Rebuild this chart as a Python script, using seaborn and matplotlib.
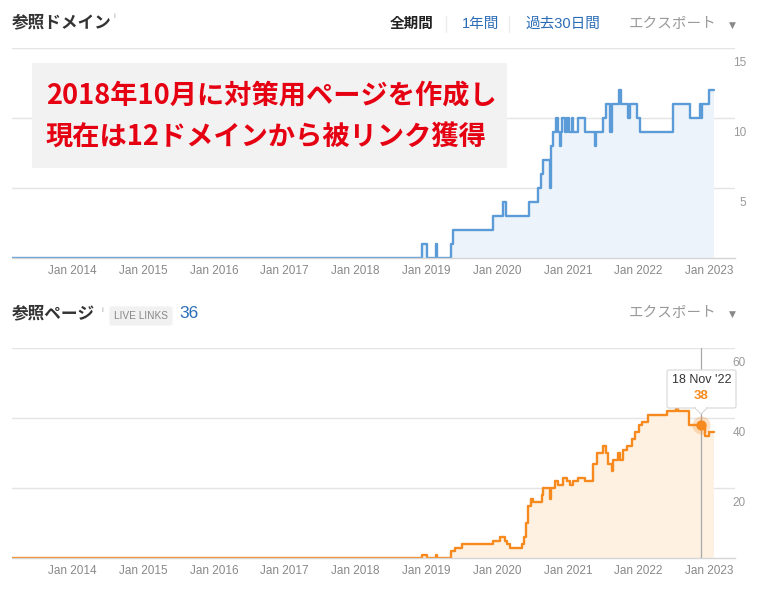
import numpy as np
import pandas as pd
import matplotlib
matplotlib.use('Agg')
import matplotlib.pyplot as plt
from matplotlib.patches import Rectangle, Polygon, FancyBboxPatch
from matplotlib.lines import Line2D
from matplotlib.transforms import ScaledTranslation
import seaborn as sns

# ---------------- data ----------------
domain_dates = ['2013-02-23', '2018-12-10', '2019-01-04', '2019-02-19', '2019-02-27',
                '2019-05-09', '2019-05-20', '2019-12-13', '2020-01-31', '2020-02-17',
                '2020-06-16', '2020-08-02', '2020-08-14', '2020-08-28', '2020-09-30',
                '2020-10-04', '2020-10-18', '2020-11-01', '2020-11-13', '2020-11-20',
                '2020-11-28', '2020-12-01', '2020-12-18', '2020-12-27', '2021-01-09',
                '2021-01-22', '2021-01-30', '2021-02-25', '2021-03-31', '2021-05-20',
                '2021-05-27', '2021-07-04', '2021-07-18', '2021-08-07', '2021-08-16',
                '2021-09-24', '2021-10-03', '2021-11-10', '2021-11-18', '2021-12-23',
                '2022-01-09', '2022-06-30', '2022-09-24', '2022-11-14', '2022-11-20',
                '2022-11-24', '2023-01-02', '2023-01-28']
domain_values = [0, 1, 0, 1, 0,
                 1, 2, 3, 4, 3,
                 4, 5, 6, 7, 5,
                 8, 9, 10, 9, 8,
                 9, 10, 9, 10, 9,
                 10, 9, 10, 9, 8,
                 9, 10, 11, 9, 11,
                 12, 11, 10, 11, 10,
                 9, 11, 10, 11, 10,
                 11, 12, 12]

page_dates = ['2013-02-23', '2018-12-09', '2019-01-05', '2019-02-19', '2019-02-26',
              '2019-05-09', '2019-05-30', '2019-07-03', '2019-12-13', '2020-01-17',
              '2020-02-12', '2020-02-24', '2020-03-08', '2020-05-08', '2020-05-20',
              '2020-05-31', '2020-06-08', '2020-06-26', '2020-07-06', '2020-08-20',
              '2020-08-28', '2020-10-02', '2020-10-08', '2020-10-27', '2020-11-13',
              '2020-12-09', '2020-12-27', '2021-01-13', '2021-01-30', '2021-02-25',
              '2021-03-31', '2021-05-13', '2021-06-03', '2021-07-04', '2021-07-18',
              '2021-07-29', '2021-08-16', '2021-08-24', '2021-09-19', '2021-09-28',
              '2021-10-15', '2021-11-04', '2021-11-27', '2021-12-14', '2022-01-01',
              '2022-01-18', '2022-02-21', '2022-05-27', '2022-07-14', '2022-07-24',
              '2022-09-20', '2022-12-12', '2023-01-02', '2023-01-28']
page_values = [0, 1, 0, 1, 0,
               2, 3, 4, 5, 6,
               5, 4, 3, 4, 6,
               10, 15, 17, 16, 18,
               20, 17, 20, 22, 21,
               23, 22, 21, 22, 23,
               22, 27, 30, 32, 30,
               27, 25, 28, 30, 28,
               31, 32, 34, 36, 38,
               39, 41, 42, 43, 42,
               38, 35, 36, 36]

domain_yticks = [5, 10, 15]
page_yticks = [20, 40, 60]
year_ticks = list(range(2014, 2024))
x_start, x_end = '2013-02-23', '2023-05-14'
tooltip_date = '2022-11-18'
tooltip_label = "18 Nov '22"
tooltip_value = 38
live_links = 36

title_top = '参照ドメイン'
title_bottom = '参照ページ'
period_labels = ['全期間', '1年間', '過去30日間']
export_label = 'エクスポート'
note_lines = ['2018年10月に対策用ページを作成し', '現在は12ドメインから被リンク獲得']

# ---------------- style ----------------
sns.set_style('white')
plt.rcParams['font.family'] = ['Liberation Sans', 'Noto Sans CJK JP', 'DejaVu Sans']

BLUE_LINE = '#5b9bd8'
BLUE_FILL = '#edf3fb'
ORANGE_LINE = '#f68a1e'
ORANGE_FILL = '#fef1e1'
LINK_BLUE = '#2a6cb6'

W, H = 762, 592
fig = plt.figure(figsize=(W / 100, H / 100), dpi=100)
fig.patch.set_facecolor('white')


def fx(px):
    return px / W


def fy(py):
    return 1 - py / H


ax1 = fig.add_axes([fx(12), fy(258), fx(735) - fx(12), fy(48) - fy(258)])
ax2 = fig.add_axes([fx(12), fy(558), fx(735) - fx(12), fy(348) - fy(558)])


def draw_series(ax, dates, values, lc, fc):
    d = pd.to_datetime(dates)
    df = pd.DataFrame({'date': d, 'value': values})
    ax.fill_between(df['date'], df['value'], step='post', color=fc, lw=0, zorder=1)
    sns.lineplot(data=df, x='date', y='value', ax=ax, drawstyle='steps-post',
                 color=lc, lw=1.7, estimator=None, zorder=2)


def style(ax, yticks, ymax):
    ax.set_ylim(0, ymax)
    ax.set_xlim(pd.Timestamp(x_start), pd.Timestamp(x_end))
    ax.set_yticks(yticks)
    ax.set_yticklabels([str(v) for v in yticks])
    ax.yaxis.tick_right()
    ax.grid(axis='y', color='#e4e4e4', lw=1)
    ax.grid(axis='x', visible=False)
    for s in ['top', 'left', 'right']:
        ax.spines[s].set_visible(False)
    ax.spines['bottom'].set_color('#d5d5d5')
    ax.spines['bottom'].set_linewidth(1)
    ax.set_xticks([pd.Timestamp(f'{y}-01-01') for y in year_ticks])
    ax.set_xticklabels([f'Jan {y}' for y in year_ticks])
    ax.tick_params(axis='x', direction='in', length=5, width=1, color='#e2e2e2',
                   labelsize=8.5, labelcolor='#888888', pad=5)
    ax.tick_params(axis='y', length=0, labelsize=8.5, labelcolor='#999999', pad=0)
    for lab in ax.get_yticklabels():
        lab.set_horizontalalignment('right')
        lab.set_transform(lab.get_transform() +
                          ScaledTranslation(11 / 100, -14 / 100, fig.dpi_scale_trans))
    ax.set_xlabel('')
    ax.set_ylabel('')
    ax.set_facecolor('none')


draw_series(ax1, domain_dates, domain_values, BLUE_LINE, BLUE_FILL)
style(ax1, domain_yticks, 15)
draw_series(ax2, page_dates, page_values, ORANGE_LINE, ORANGE_FILL)
style(ax2, page_yticks, 60)

# crosshair + highlighted point
td = pd.Timestamp(tooltip_date)
ax2.axvline(td, color='#a8a8a8', lw=0.9, zorder=3)
ax2.scatter([td], [tooltip_value], s=170, color=ORANGE_LINE, alpha=0.25, lw=0, zorder=4)
ax2.scatter([td], [tooltip_value], s=55, color=ORANGE_LINE, lw=0, zorder=5)

# tooltip box
box = FancyBboxPatch((fx(667), fy(408)), fx(736) - fx(667), fy(370) - fy(408),
                     boxstyle='round,pad=0,rounding_size=0.003',
                     transform=fig.transFigure, facecolor='white',
                     edgecolor='#d6d6d6', lw=0.8, zorder=5)
fig.add_artist(box)
tri = Polygon([[fx(695), fy(408)], [fx(701), fy(414)], [fx(707), fy(408)]],
              closed=True, transform=fig.transFigure, facecolor='white',
              edgecolor='#d6d6d6', lw=0.8, zorder=5)
fig.add_artist(tri)
cover = Rectangle((fx(695.8), fy(408.8)), fx(706.2) - fx(695.8), fy(407) - fy(408.8),
                  transform=fig.transFigure, facecolor='white', edgecolor='none', zorder=6)
fig.add_artist(cover)
fig.text(fx(701.5), fy(380), tooltip_label, ha='center', va='center', fontsize=9,
         color='#333333', zorder=7)
fig.text(fx(701.5), fy(396), str(tooltip_value), ha='center', va='center', fontsize=9.5,
         color=ORANGE_LINE, fontweight='bold', zorder=7)

# annotation box
note = Rectangle((fx(32), fy(168)), fx(507) - fx(32), fy(63) - fy(168),
                 transform=fig.transFigure, facecolor='#f2f2f2', edgecolor='none', zorder=5)
fig.add_artist(note)
fig.text(fx(46), fy(95), note_lines[0], ha='left', va='center', fontsize=19.6,
         color='#e50012', fontweight='bold', family=['Noto Sans CJK JP'], zorder=6)
fig.text(fx(46), fy(137), note_lines[1], ha='left', va='center', fontsize=19.6,
         color='#e50012', fontweight='bold', family=['Noto Sans CJK JP'], zorder=6)

# headers
fig.text(fx(12), fy(22), title_top, ha='left', va='center', fontsize=12,
         color='#333333', fontweight='bold')
fig.text(fx(113), fy(17), 'i', ha='left', va='center', fontsize=6, color='#aaaaaa')
fig.text(fx(390), fy(24), period_labels[0], ha='left', va='center', fontsize=10.5,
         color='#222222', fontweight='bold')
fig.text(fx(461.5), fy(24), period_labels[1], ha='left', va='center', fontsize=10.5,
         color=LINK_BLUE)
fig.text(fx(525), fy(24), period_labels[2], ha='left', va='center', fontsize=10.5,
         color=LINK_BLUE)
for sx in (446, 509):
    fig.add_artist(Line2D([fx(sx), fx(sx)], [fy(16), fy(32)], transform=fig.transFigure,
                          color='#ececec', lw=1))
for yy in (24, 313):
    fig.text(fx(629), fy(yy), export_label, ha='left', va='center', fontsize=10.5,
             color='#999999')
    fig.text(fx(732), fy(yy + 1), '▼', ha='center', va='center', fontsize=6.5,
             color='#888888', family=['DejaVu Sans'])

fig.text(fx(12), fy(313), title_bottom, ha='left', va='center', fontsize=12,
         color='#333333', fontweight='bold')
fig.text(fx(101), fy(310), 'i', ha='left', va='center', fontsize=6, color='#aaaaaa')
fig.text(fx(141), fy(316), 'LIVE LINKS', ha='center', va='center', fontsize=7.3,
         color='#888888',
         bbox=dict(boxstyle='round,pad=0.45,rounding_size=0.2', facecolor='#f1f1f1',
                   edgecolor='none'))
fig.text(fx(179), fy(313), str(live_links), ha='left', va='center', fontsize=12.5,
         color=LINK_BLUE)

fig.savefig('out.png', dpi=100, facecolor='white')
